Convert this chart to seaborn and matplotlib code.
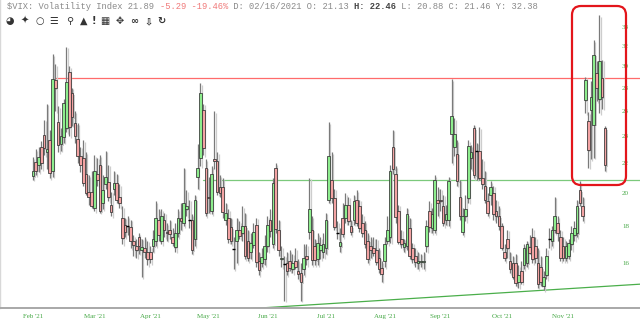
import numpy as np
import pandas as pd
import matplotlib
matplotlib.use("Agg")
import matplotlib.pyplot as plt
import matplotlib.ticker as mticker
from matplotlib.patches import FancyBboxPatch
from matplotlib.transforms import IdentityTransform
import seaborn as sns

# ---------------- data ----------------
start_date = "2021-02-16"
end_date = "2021-12-07"
holidays = ["2021-04-02", "2021-05-31", "2021-07-05", "2021-09-06", "2021-11-25"]

opens = [
    21.13, 22.10, 21.90, 23.20, 24.10, 22.80, 23.70, 21.50, 28.70,
    25.10, 23.40, 23.90, 24.60, 29.40, 27.50, 25.00, 23.80, 22.50, 22.40, 21.30, 20.10, 20.10, 19.10, 21.30, 21.90, 19.40, 20.60, 20.75, 19.30, 20.30, 20.70, 19.80,
    18.50, 18.10, 18.00, 17.96, 17.20, 16.90, 17.40, 16.70, 16.80, 16.60, 16.60, 16.90, 17.20, 18.40, 17.20, 18.40, 17.70, 17.80, 17.40, 16.85, 17.60,
    18.50, 18.20, 19.00, 18.40, 18.40, 17.30, 21.10, 22.40, 26.10, 21.70, 19.80, 18.90, 22.30, 22.20, 20.40, 20.40, 18.40, 18.50, 17.95, 16.76,
    17.20, 17.80, 17.60, 18.00, 17.20, 16.60, 16.97, 18.10, 16.10, 16.00, 16.20, 16.90, 18.40, 17.00, 21.70, 17.80, 16.20, 15.98, 16.00, 16.10, 15.70, 16.10,
    15.60, 15.50, 15.70, 16.40, 17.70, 17.80, 16.90, 16.20, 16.70, 16.60, 16.80, 19.60, 20.90, 19.70, 17.60, 16.90, 18.50, 18.50, 19.30, 18.00, 18.40,
    19.60, 19.20, 18.20, 17.80, 17.20, 16.90, 16.80, 16.70, 16.30, 15.75, 16.10, 17.20, 17.40, 23.20, 21.30, 18.90, 17.30, 16.85, 16.90, 17.90, 16.80, 16.40,
    16.00, 16.05, 16.05, 16.90, 18.90, 17.90, 17.80, 19.60, 19.60, 19.20, 18.40, 18.40, 24.20, 23.20, 22.70, 19.80, 17.70, 18.60, 19.70, 22.40, 24.60,
    22.90, 22.90, 21.00, 20.50, 19.50, 19.90, 20.00, 18.90, 18.60, 18.00, 16.60, 17.30, 16.10, 16.00, 16.00, 15.10, 15.60, 15.90, 16.00, 16.85, 17.40,
    16.90, 16.00, 15.80, 14.90, 15.40, 17.30, 17.20, 17.80, 18.20, 17.40, 16.90, 16.30, 16.40, 17.00, 17.50, 17.60, 20.20, 19.20, 26.90, 25.20, 26.10,
    24.90, 29.30, 27.00, 28.90, 24.60,
]
highs = [
    22.46, 23.00, 23.20, 23.60, 25.30, 26.60, 24.50, 31.16, 30.20,
    26.40, 24.60, 27.00, 31.90, 30.00, 28.00, 26.00, 25.00, 23.20, 23.70, 22.80, 21.20, 21.50, 22.60, 22.40, 22.60, 21.20, 22.90, 21.90, 20.10, 21.50, 21.30, 20.60,
    19.20, 18.50, 18.60, 18.40, 17.50, 17.30, 17.60, 17.30, 17.40, 17.20, 16.90, 17.80, 19.50, 19.00, 19.00, 18.80, 18.20, 18.40, 17.90, 18.20, 19.00,
    19.40, 21.70, 20.20, 19.60, 18.70, 19.90, 23.40, 28.40, 26.60, 22.30, 21.10, 21.80, 25.96, 22.80, 21.20, 21.00, 19.40, 19.00, 18.50, 17.40,
    18.50, 18.30, 19.20, 18.80, 17.80, 17.60, 18.20, 18.50, 16.60, 16.80, 17.50, 18.60, 19.00, 21.00, 22.00, 18.40, 16.90, 16.40, 16.60, 16.70, 16.50, 16.80,
    16.20, 16.00, 17.00, 17.00, 21.01, 18.60, 17.30, 17.60, 17.40, 17.60, 18.80, 25.09, 22.80, 20.30, 18.30, 17.90, 19.40, 20.00, 19.80, 18.40, 19.90,
    20.20, 19.60, 18.70, 18.30, 17.60, 17.40, 17.40, 17.30, 16.80, 16.10, 17.40, 18.60, 21.90, 24.50, 21.80, 19.30, 17.80, 17.30, 19.10, 18.50, 17.10, 16.80,
    16.60, 16.50, 16.60, 18.40, 19.50, 19.10, 21.20, 20.40, 20.30, 19.90, 19.30, 21.10, 28.79, 25.40, 23.70, 20.90, 19.10, 19.90, 23.70, 23.30, 24.90,
    23.50, 24.70, 22.30, 21.50, 20.00, 20.80, 20.50, 19.60, 19.20, 18.20, 17.00, 17.80, 16.60, 16.40, 16.50, 15.90, 16.10, 17.00, 17.20, 17.50, 17.90,
    17.40, 16.80, 16.40, 15.60, 16.80, 17.90, 18.00, 19.80, 18.60, 17.80, 17.40, 17.20, 17.30, 18.00, 18.30, 19.60, 20.80, 19.80, 28.99, 25.90, 28.60,
    32.60, 30.50, 35.30, 30.60, 24.80,
]
lows = [
    20.88, 21.20, 21.40, 21.60, 22.60, 21.60, 21.00, 21.10, 26.00,
    22.80, 22.90, 23.50, 24.30, 24.00, 24.80, 23.50, 22.00, 21.40, 20.50, 19.90, 19.30, 19.10, 18.90, 20.50, 18.80, 19.00, 20.30, 19.50, 18.60, 19.90, 19.40, 19.10,
    17.00, 17.40, 17.50, 16.80, 16.40, 16.30, 16.50, 15.30, 16.30, 15.90, 16.00, 16.60, 16.90, 17.20, 17.00, 17.40, 17.20, 17.30, 16.90, 16.60, 17.40,
    17.80, 18.00, 18.60, 17.90, 16.50, 16.90, 20.30, 21.80, 22.60, 18.60, 18.80, 18.70, 21.60, 19.90, 19.80, 18.50, 18.10, 17.10, 17.00, 15.70,
    16.00, 17.30, 17.20, 16.20, 16.10, 16.20, 16.80, 15.80, 15.40, 15.80, 15.90, 16.60, 17.40, 16.80, 17.60, 16.40, 15.80, 14.20, 15.40, 15.60, 15.50, 15.70,
    15.20, 14.20, 15.40, 15.90, 17.30, 15.90, 15.90, 15.90, 16.20, 16.30, 16.50, 19.40, 19.40, 17.80, 17.30, 16.60, 17.40, 18.20, 18.10, 17.50, 18.10,
    18.00, 17.70, 17.40, 16.80, 16.00, 16.30, 16.40, 15.90, 15.50, 15.10, 15.80, 17.00, 17.10, 21.30, 18.20, 17.00, 16.80, 16.60, 16.70, 16.20, 16.00, 15.80,
    15.70, 15.80, 15.70, 16.60, 17.70, 17.60, 17.60, 18.60, 18.90, 18.00, 18.10, 18.00, 22.00, 22.50, 20.50, 18.40, 17.50, 18.30, 19.40, 21.60, 21.00,
    20.90, 20.90, 20.30, 19.40, 18.60, 19.30, 18.40, 18.20, 17.80, 16.70, 16.10, 16.30, 15.50, 15.20, 14.90, 14.80, 15.00, 15.70, 15.80, 16.50, 16.00,
    16.00, 14.80, 14.90, 14.70, 15.20, 16.80, 16.90, 17.60, 17.20, 16.10, 16.10, 16.10, 16.20, 16.70, 17.20, 17.40, 19.20, 18.30, 25.80, 21.70, 22.30,
    22.40, 26.80, 25.80, 26.20, 21.50,
]
closes = [
    21.46, 21.50, 22.49, 22.05, 23.10, 23.00, 21.34, 28.80, 27.95,
    23.35, 24.00, 26.67, 28.50, 24.70, 25.50, 24.03, 22.56, 21.91, 20.69, 20.03, 19.79, 19.23, 21.50, 20.90, 18.88, 20.20, 21.10, 19.75, 18.86, 20.70, 19.61, 19.40,
    17.33, 17.70, 18.00, 17.16, 16.95, 16.70, 16.90, 16.85, 16.60, 16.20, 16.25, 17.30, 18.50, 17.50, 18.60, 17.80, 17.64, 17.56, 17.10, 17.60, 18.50,
    18.30, 19.40, 19.20, 18.40, 16.69, 19.60, 21.70, 27.50, 23.13, 18.81, 19.72, 21.30, 22.18, 20.10, 20.05, 18.85, 18.80, 17.30, 17.20, 16.76,
    17.80, 17.48, 18.04, 16.40, 16.30, 17.05, 17.70, 16.05, 15.65, 16.35, 16.90, 18.10, 17.75, 20.70, 17.85, 16.70, 16.30, 15.98, 15.62, 15.76, 16.02, 15.83,
    15.48, 15.07, 16.30, 16.20, 19.00, 16.18, 16.17, 17.10, 16.95, 17.00, 18.40, 22.50, 19.73, 17.95, 17.60, 17.15, 17.55, 19.30, 18.31, 17.70, 19.50,
    18.20, 17.90, 17.60, 17.00, 16.20, 16.72, 16.55, 16.06, 15.70, 15.45, 17.00, 17.80, 21.50, 21.60, 18.56, 17.15, 17.00, 17.10, 18.70, 16.39, 16.20, 16.05,
    16.11, 16.10, 16.10, 18.05, 17.95, 18.70, 20.90, 19.40, 19.50, 18.20, 18.70, 20.80, 25.60, 24.20, 20.80, 18.60, 18.60, 19.00, 23.25, 22.80, 21.20,
    22.90, 21.00, 20.60, 19.60, 18.80, 20.40, 18.70, 18.60, 18.00, 16.80, 16.30, 16.80, 15.70, 15.30, 15.01, 15.40, 15.10, 16.80, 17.00, 16.55, 16.20,
    16.30, 15.00, 15.10, 15.30, 16.40, 17.30, 17.80, 18.60, 17.60, 16.30, 16.30, 16.90, 17.10, 17.60, 17.90, 19.20, 19.40, 18.60, 28.70, 22.96, 27.20,
    31.10, 28.00, 30.50, 27.18, 21.89,
]

y_ticks = [16, 18, 20, 22, 24, 26, 28, 30, 32, 34]
x_tick_dates = ["2021-02-16", "2021-03-18", "2021-04-16", "2021-05-17", "2021-06-16",
                "2021-07-16", "2021-08-16", "2021-09-14", "2021-10-14", "2021-11-15"]
x_tick_labels = ["Feb '21", "Mar '21", "Apr '21", "May '21", "Jun '21",
                 "Jul '21", "Aug '21", "Sep '21", "Oct '21", "Nov '21"]

resistance_level = 28.85
resistance_from = "2021-02-26"
support_level = 20.87
support_from = "2021-05-13"
trend_dates = ["2021-06-16", "2021-12-07"]
trend_values = [13.9, 14.87]

header_parts = [
    ("$VIX: Volatility Index 21.89 ", "normal"),
    ("-5.29 -19.46%", "red"),
    (" D: 02/16/2021 O: 21.13 ", "normal"),
    ("H: 22.46", "bold"),
    (" L: 20.88 C: 21.46 Y: 32.38", "normal"),
]
toolbar_icons = ["◕", "✦", "○", "☰", "⚲", "▲", "!", "▦", "✥", "∞", "⇩", "↻"]

# ---------------- build frame ----------------
dates = pd.bdate_range(start_date, end_date, freq="C", holidays=holidays)
df = pd.DataFrame({"date": dates, "open": opens, "high": highs,
                   "low": lows, "close": closes})
df["i"] = np.arange(len(df))
pos = pd.Series(df["i"].values, index=df["date"])

sns.set_theme(style="white")
plt.rcParams["font.family"] = ["DejaVu Sans"]

W, H = 640, 328
fig = plt.figure(figsize=(W / 100, H / 100), dpi=100)
fig.patch.set_facecolor("white")
ax = fig.add_axes([0, 20 / H, 1, 308 / H])
ax.set_facecolor("white")
ax.set_yscale("log")

GREEN_FILL = "#8ded8d"
RED_FILL = "#f3a3a3"
EDGE = "#333333"
WICK = "#7a7a7a"
SHADOW = "#cdcdcd"
TXT_GREEN = "#45a845"
BW = 0.95          # body width (in trading-day units)
SH_DX = 0.5        # shadow offset to the right
SH_F = np.exp(-0.005)  # shadow offset downwards (log scale)

up = df[df["close"] > df["open"]]
dn = df[df["close"] < df["open"]]
fl = df[df["close"] == df["open"]]
bodies = df[df["close"] != df["open"]]
b_lo = np.minimum(bodies["open"], bodies["close"])
b_hi = np.maximum(bodies["open"], bodies["close"])

# drop shadows
ax.vlines(df["i"] + SH_DX, df["low"] * SH_F, df["high"] * SH_F, color=SHADOW,
          linewidth=0.9, zorder=1.5)
ax.bar(bodies["i"] + SH_DX, (b_hi - b_lo) * SH_F, bottom=b_lo * SH_F, width=BW,
       color=SHADOW, linewidth=0, zorder=1.6)

# wicks
ax.vlines(df["i"], df["low"], df["high"], color=WICK, linewidth=0.9, zorder=2)

ax.bar(up["i"], up["close"] - up["open"], bottom=up["open"], width=BW,
       color=GREEN_FILL, edgecolor=EDGE, linewidth=0.55, zorder=3)
ax.bar(dn["i"], dn["open"] - dn["close"], bottom=dn["close"], width=BW,
       color=RED_FILL, edgecolor=EDGE, linewidth=0.55, zorder=3)
ax.hlines(fl["close"], fl["i"] - 0.55, fl["i"] + 0.55, color="black", linewidth=1.0, zorder=3)

xmin, xmax = -11.83, 217.56
ax.set_xlim(xmin, xmax)
ax.set_ylim(13.88, 37.03)

# horizontal levels
res_df = pd.DataFrame({"i": [pos[pd.Timestamp(resistance_from)], xmax],
                       "v": [resistance_level, resistance_level]})
sup_df = pd.DataFrame({"i": [pos[pd.Timestamp(support_from)], xmax],
                       "v": [support_level, support_level]})
sns.lineplot(data=res_df, x="i", y="v", ax=ax, color="#ff6b6b", linewidth=0.9,
             estimator=None, zorder=1)
sns.lineplot(data=sup_df, x="i", y="v", ax=ax, color="#7cc97c", linewidth=0.9,
             estimator=None, zorder=1)

# rising trend line (straight in log space), extended to the right edge
t0, t1 = pos[pd.Timestamp(trend_dates[0])], pos[pd.Timestamp(trend_dates[1])]
slope = (np.log(trend_values[1]) - np.log(trend_values[0])) / (t1 - t0)
tx = np.array([t0 - 20, xmax])
ty = np.exp(np.log(trend_values[0]) + slope * (tx - t0))
sns.lineplot(x=tx, y=ty, ax=ax, color="#4aae4a", linewidth=0.9, estimator=None, zorder=1)

# axes styling
for s in ["top", "right"]:
    ax.spines[s].set_visible(False)
ax.spines["bottom"].set_color("#a8a8a8")
ax.spines["bottom"].set_linewidth(1.4)
ax.spines["left"].set_color("#d8d8d8")
ax.spines["left"].set_linewidth(1.0)

ax.yaxis.tick_right()
ax.yaxis.set_major_locator(mticker.FixedLocator(y_ticks))
ax.yaxis.set_major_formatter(mticker.FixedFormatter([str(t) for t in y_ticks]))
ax.yaxis.set_minor_locator(mticker.NullLocator())
ax.yaxis.set_minor_formatter(mticker.NullFormatter())
ax.tick_params(axis="y", which="both", length=0, pad=-13, labelsize=5.0,
               labelcolor=TXT_GREEN)
for lab in ax.get_yticklabels():
    lab.set_fontfamily("Liberation Serif")

ax.set_xticks([pos[pd.Timestamp(d)] for d in x_tick_dates])
ax.set_xticklabels(x_tick_labels, fontfamily="Liberation Serif")
ax.tick_params(axis="x", length=0, pad=4.2, labelsize=5.0, labelcolor=TXT_GREEN)
ax.set_xlabel("")
ax.set_ylabel("")
ax.grid(False)

# header text (monospace, segment by segment)
fs = 6.3
char_w = 0.6 * fs * 100 / 72
x_px = 7.3
for text, style in header_parts:
    kw = dict(fontsize=fs, family="Liberation Mono", va="center", ha="left")
    if style == "red":
        kw.update(color="#f07a7a")
    elif style == "bold":
        kw.update(color="#444444", fontweight="bold")
    else:
        kw.update(color="#8a8a8a")
    fig.text(x_px / W, 1 - 6.7 / H, text, **kw)
    x_px += len(text) * char_w

# toolbar icons
icon_x = [9.3, 25, 39.3, 53.3, 69.3, 83.3, 94, 105, 119.3, 134, 148.3, 161.7]
for xi, ic in zip(icon_x, toolbar_icons):
    fig.text(xi / W, 1 - 21 / H, ic, fontsize=7, color="#333333", ha="center",
             va="center", family="DejaVu Sans", fontweight="bold")

# red highlight box (pixel coordinates)
box = FancyBboxPatch((572, H - 185), 54, 179,
                     boxstyle="round,pad=0,rounding_size=9",
                     transform=IdentityTransform(), fill=False,
                     edgecolor="#e3151b", linewidth=1.6, zorder=10)
fig.add_artist(box)

fig.savefig("out.png", dpi=100, facecolor="white")
